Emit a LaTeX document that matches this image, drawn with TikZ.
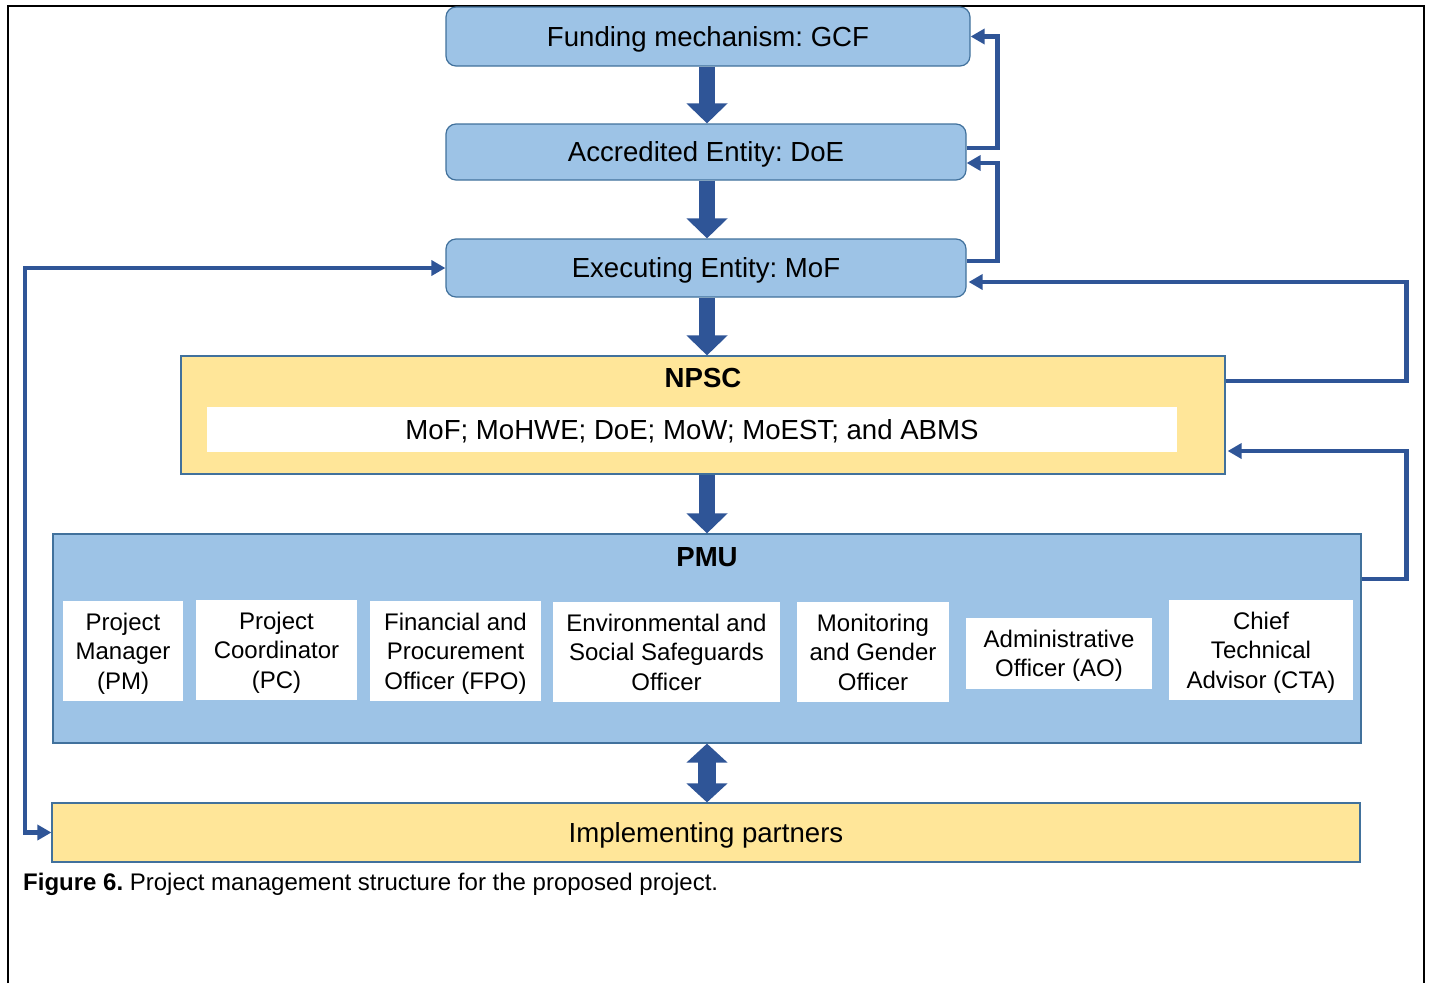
\documentclass[tikz,border=0pt]{standalone}
\usepackage{fontspec}
\setmainfont{Liberation Sans}
\usetikzlibrary{arrows.meta}
\frenchspacing
\definecolor{boxblue}{HTML}{9DC3E6}
\definecolor{edgeblue}{HTML}{41719C}
\definecolor{arrowblue}{HTML}{2F5597}
\definecolor{boxyellow}{HTML}{FFE699}
\tikzset{
  bigfont/.style={font=\fontsize{27.6}{33}\selectfont},
  smallfont/.style={font=\fontsize{24}{29.5}\selectfont},
  captext/.style={text height=19.8pt, text depth=0pt},
  entity/.style={draw=edgeblue, line width=1.2pt, fill=boxblue, rounded corners=10pt, inner sep=0pt, bigfont, captext},
  panel/.style={draw=edgeblue, line width=1.2pt, inner sep=0pt},
  staffbox/.style={fill=white, inner sep=0pt, align=center, smallfont, text depth=0pt},
  staffthree/.style={staffbox, text height=76.2pt},
  stafftwo/.style={staffbox, text height=46.7pt},
  bigarrow/.style={draw=arrowblue, line width=16pt, -{Triangle[width=40pt,length=20pt]}},
  dblarrow/.style={draw=arrowblue, line width=18pt, {Triangle[width=40pt,length=19pt]}-{Triangle[width=40pt,length=19pt]}},
  fb/.style={draw=arrowblue, line width=4.5pt, -{Triangle[width=15pt,length=14pt]}},
  fbboth/.style={draw=arrowblue, line width=4.5pt, {Triangle[width=15pt,length=14pt]}-{Triangle[width=15pt,length=14pt]}},
}
\begin{document}
\begin{tikzpicture}[x=1pt,y=-1pt]
\useasboundingbox (0,0) rectangle (1429,983);
% outer frame
\draw[line width=2pt] (8,983) -- (8,6) -- (1424,6) -- (1424,983);

% entities
\node[entity, minimum width=524pt, minimum height=59pt] (fund) at (708,36.5) {Funding mechanism: GCF};
\node[entity, minimum width=520pt, minimum height=56pt] (acc) at (706,152) {Accredited Entity: DoE};
\node[entity, minimum width=520pt, minimum height=58pt] (exe) at (706,268) {Executing Entity: MoF};

% NPSC
\node[panel, fill=boxyellow, minimum width=1044pt, minimum height=118pt] (npsc) at (703,415) {};
\node[font=\fontsize{27.6}{33}\selectfont\bfseries, captext, inner sep=0pt] (npsctitle) at (703,378) {NPSC};
\node[fill=white, inner sep=0pt, minimum width=970pt, minimum height=45pt, bigfont, captext] (npscmembers) at (692,429.5) {MoF; MoHWE; DoE; MoW; MoEST; and ABMS};

% PMU
\node[panel, fill=boxblue, minimum width=1308pt, minimum height=209pt] (pmu) at (707,638.5) {};
\node[font=\fontsize{27.6}{33}\selectfont\bfseries, captext, inner sep=0pt] (pmutitle) at (707,557) {PMU};
\node[staffthree, minimum width=120pt, minimum height=100pt] (pm) at (123,651) {Project\\Manager\\(PM)};
\node[staffthree, minimum width=161pt, minimum height=100pt] (pc) at (276.5,650) {Project\\Coordinator\\(PC)};
\node[staffthree, minimum width=171pt, minimum height=100pt] (fpo) at (455.5,651) {Financial and\\Procurement\\Officer (FPO)};
\node[staffthree, minimum width=227pt, minimum height=100pt] (esso) at (666.5,652) {Environmental and\\Social Safeguards\\Officer};
\node[staffthree, minimum width=152pt, minimum height=100pt] (mgo) at (873,652) {Monitoring\\and Gender\\Officer};
\node[stafftwo, minimum width=186pt, minimum height=71pt] (ao) at (1059,653.5) {Administrative\\Officer (AO)};
\node[staffthree, minimum width=184pt, minimum height=100pt] (cta) at (1261,650) {Chief\\Technical\\Advisor (CTA)};

% Implementing partners
\node[panel, fill=boxyellow, minimum width=1308pt, minimum height=59pt, bigfont, captext] (impl) at (706,832.5) {Implementing partners};

% main flow arrows
\draw[bigarrow] (fund.south -| 707,0) -- (acc.north -| 707,0);
\draw[bigarrow] (acc.south -| 707,0) -- (exe.north -| 707,0);
\draw[bigarrow] (exe.south -| 707,0) -- (npsc.north -| 707,0);
\draw[bigarrow] (npsc.south -| 707,0) -- (pmu.north -| 707,0);
\draw[dblarrow] (pmu.south -| 707,0) -- (impl.north -| 707,0);

% feedback arrows
\draw[fb] ([yshift=4pt]acc.east) -| ([xshift=27pt]fund.east) -- (fund.east);
\draw[fb] ([yshift=7pt]exe.east) -| ([xshift=31pt,yshift=-11pt]acc.east) -- ([yshift=-11pt]acc.east);
\draw[fb] ([yshift=34pt]npsc.east) -| ([xshift=440pt,yshift=-14pt]exe.east) -- ([xshift=2pt,yshift=-14pt]exe.east);
\draw[fb] ([yshift=59.5pt]pmu.east) -| ([xshift=181pt,yshift=-36pt]npsc.east) -- ([xshift=2pt,yshift=-36pt]npsc.east);
\coordinate (leftrail) at (25,500);
\draw[fbboth] (exe.west) -| (leftrail) |- (impl.west);

% caption
\node[anchor=base west, inner sep=0pt, smallfont] (caption) at (23,890) {\textbf{Figure 6.} Project management structure for the proposed project.};
\end{tikzpicture}
\end{document}
